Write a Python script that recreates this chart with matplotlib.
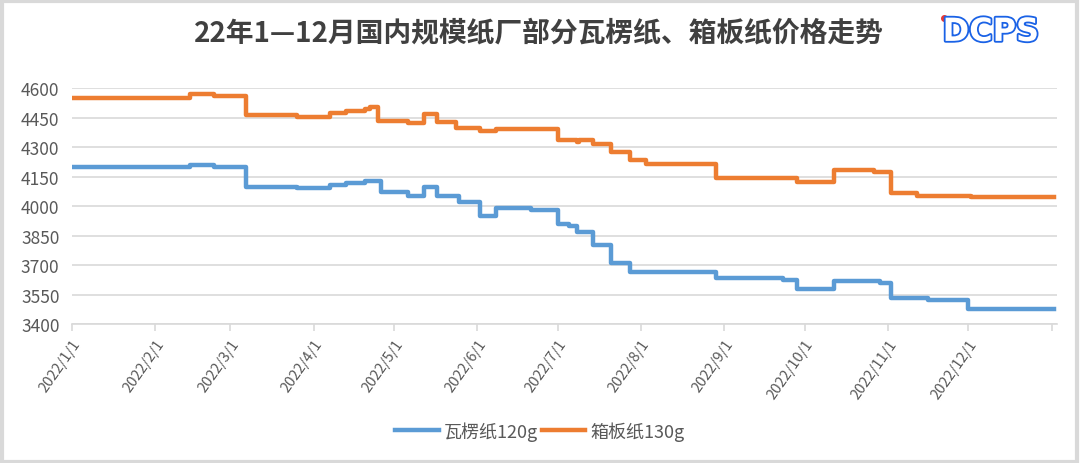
import pandas as pd
import matplotlib
matplotlib.use('Agg')
import matplotlib.pyplot as plt
import matplotlib.patheffects as pe
from matplotlib.lines import Line2D
from matplotlib.patches import Rectangle

plt.rcParams['font.family'] = ['Noto Sans CJK SC', 'DejaVu Sans']

# 价格变动点（之后保持不变，直到下一次变动）
blue_dates = ['2022-01-01', '2022-02-14', '2022-02-23', '2022-03-07', '2022-03-26',
              '2022-04-07', '2022-04-13', '2022-04-20', '2022-04-26', '2022-05-06',
              '2022-05-12', '2022-05-17', '2022-05-25', '2022-06-02', '2022-06-08',
              '2022-06-21', '2022-07-01', '2022-07-05', '2022-07-08', '2022-07-14',
              '2022-07-21', '2022-07-28', '2022-08-29', '2022-09-23', '2022-09-28',
              '2022-10-12', '2022-10-29', '2022-11-02', '2022-11-16', '2022-12-01',
              '2023-01-02']
blue_vals = [4200, 4210, 4200, 4100, 4090,
             4110, 4120, 4130, 4070, 4050,
             4100, 4050, 4020, 3950, 3990,
             3980, 3910, 3900, 3870, 3800,
             3710, 3665, 3635, 3625, 3580,
             3620, 3610, 3530, 3520, 3475,
             3475]

orange_dates = ['2022-01-01', '2022-02-14', '2022-02-23', '2022-03-07', '2022-03-26',
                '2022-04-07', '2022-04-13', '2022-04-20', '2022-04-22', '2022-04-25',
                '2022-05-06', '2022-05-12', '2022-05-17', '2022-05-24', '2022-06-02',
                '2022-06-08', '2022-07-01', '2022-07-08', '2022-07-09', '2022-07-14',
                '2022-07-21', '2022-07-28', '2022-08-03', '2022-08-29', '2022-09-28',
                '2022-10-12', '2022-10-27', '2022-11-02', '2022-11-12', '2022-12-02',
                '2023-01-02']
orange_vals = [4550, 4570, 4560, 4465, 4455,
               4475, 4485, 4495, 4505, 4435,
               4425, 4470, 4430, 4400, 4385,
               4395, 4335, 4325, 4335, 4315,
               4275, 4235, 4215, 4145, 4125,
               4185, 4175, 4065, 4050, 4045,
               4045]

series_names = ['瓦楞纸120g', '箱板纸130g']
y_ticks = [3400, 3550, 3700, 3850, 4000, 4150, 4300, 4450, 4600]
month_ticks = pd.date_range('2022-01-01', '2023-01-01', freq='MS')
x_labels = [f'2022/{m}/1' for m in range(1, 13)] + ['']

fig = plt.figure(figsize=(10.8, 4.64), dpi=100)
ax = fig.add_axes([0.0667, 0.2996, 0.912, 0.5079])

ax.plot(pd.to_datetime(blue_dates), blue_vals, drawstyle='steps-post',
        color='#5b9bd5', lw=3.2, label=series_names[0], solid_joinstyle='round')
ax.plot(pd.to_datetime(orange_dates), orange_vals, drawstyle='steps-post',
        color='#ed7d31', lw=3.2, label=series_names[1], solid_joinstyle='round')

ax.set_ylim(3400, 4600)
ax.set_yticks(y_ticks)
ax.set_xlim(pd.Timestamp('2022-01-01'), pd.Timestamp('2023-01-03'))
ax.set_xticks(month_ticks)
ax.set_xticklabels(x_labels, rotation=55, ha='right', rotation_mode='anchor')

ax.grid(axis='y', color='#d9d9d9', lw=1.2)
ax.set_axisbelow(True)
for s in ['top', 'right', 'left']:
    ax.spines[s].set_visible(False)
ax.spines['bottom'].set_color('#d9d9d9')
ax.spines['bottom'].set_linewidth(1.2)
ax.tick_params(axis='y', length=0, pad=9, labelsize=12.5, labelcolor='#595959')
ax.tick_params(axis='x', length=5, color='#d9d9d9', width=1.2, pad=4,
               labelsize=10.5, labelcolor='#595959')

fig.text(0.499, 0.927, '22年1—12月国内规模纸厂部分瓦楞纸、箱板纸价格走势',
         ha='center', va='center', fontsize=20, fontweight='bold', color='#404040')

# logo
logo_blue = '#1a62e6'
fig.text(0.9175, 0.928, 'DCPS', ha='center', va='center', fontsize=23,
         fontweight='bold', color='white', family='DejaVu Sans',
         path_effects=[pe.Stroke(linewidth=2.6, foreground=logo_blue), pe.Normal()])
fig.add_artist(Line2D([0.874], [0.958], marker='o', color='#e53935', ms=4,
                      transform=fig.transFigure))

ax.legend(loc='center', bbox_to_anchor=(0.5, 0.069), bbox_transform=fig.transFigure,
          ncol=2, frameon=False, fontsize=13, handlelength=2.4, handletextpad=0.3,
          columnspacing=0.2, labelcolor='#595959')

fig.add_artist(Rectangle((0.0015, 0.003), 0.996, 0.992, transform=fig.transFigure,
                         fill=False, edgecolor='#d9d9d9', lw=3))

fig.savefig('out.png', dpi=100, facecolor='white')
